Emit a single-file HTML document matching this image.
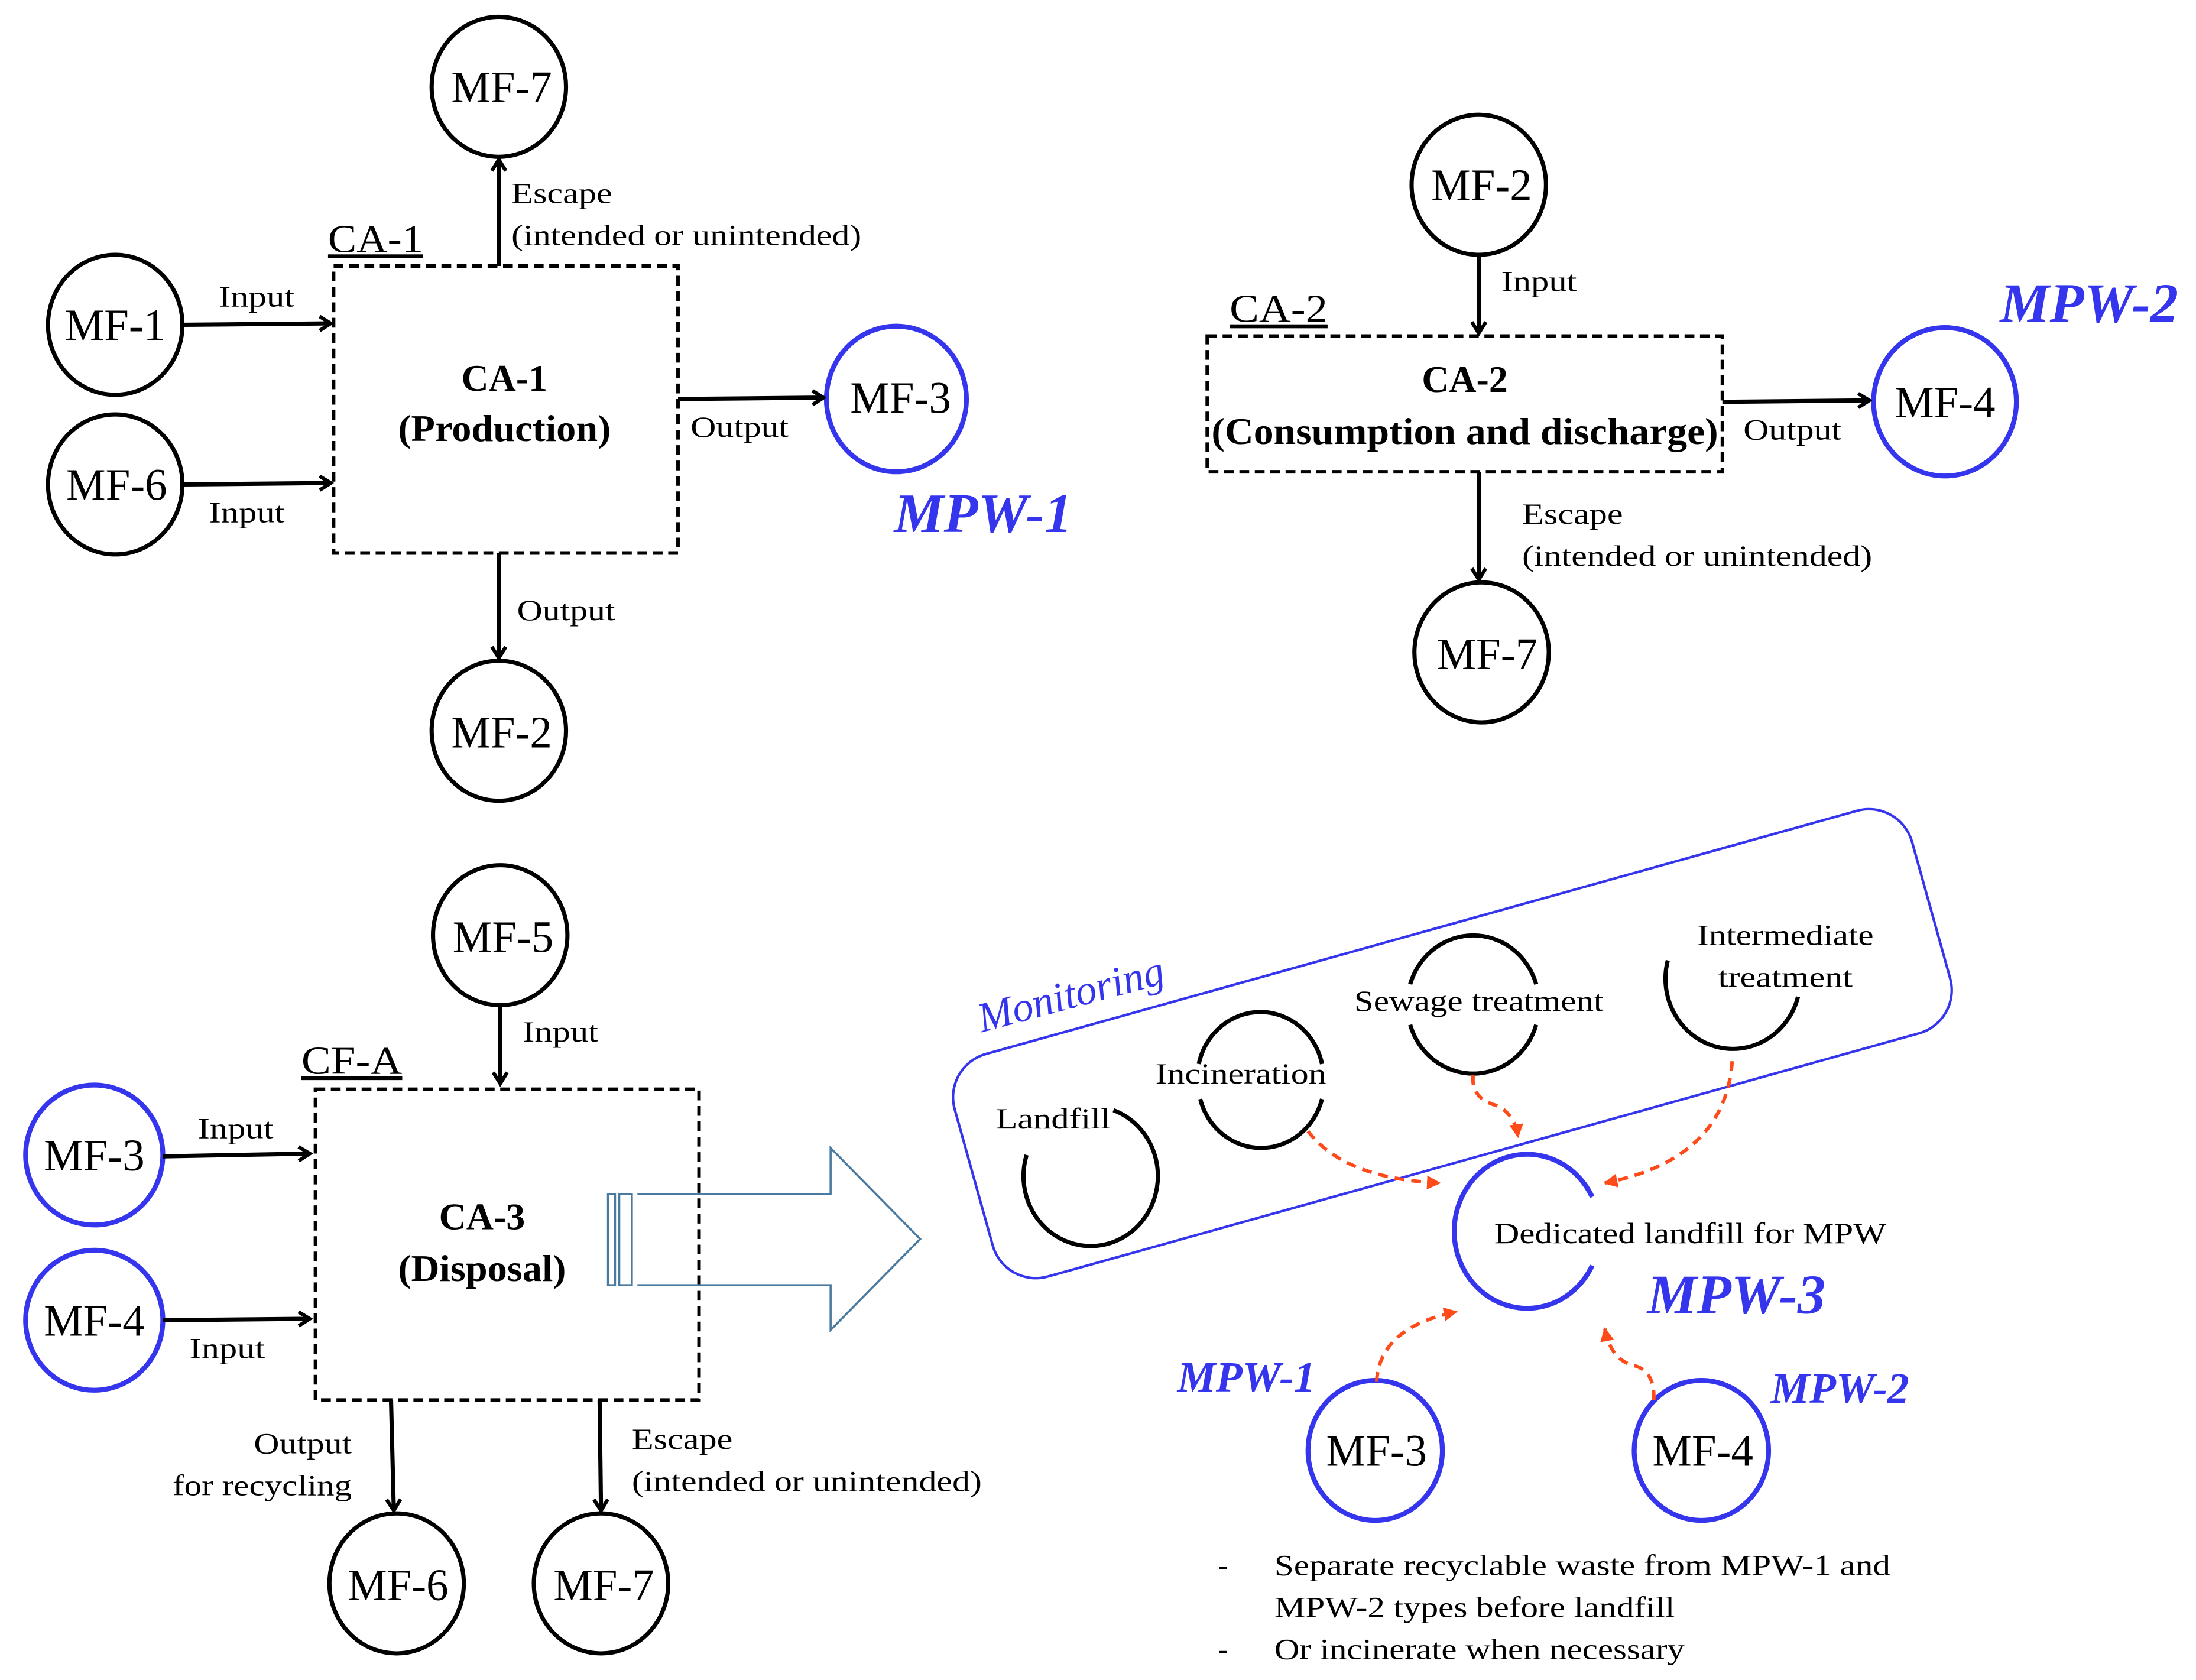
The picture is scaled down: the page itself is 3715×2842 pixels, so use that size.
<!DOCTYPE html>
<html><head><meta charset="utf-8"><style>
html,body{margin:0;padding:0;background:#fff;}
svg{display:block;}
text{font-family:"Liberation Serif",serif;}
</style></head><body>
<svg width="3715" height="2842" viewBox="0 0 1568 1200" xmlns="http://www.w3.org/2000/svg">
<defs>
<marker id="a" markerWidth="12" markerHeight="12" refX="10" refY="6" orient="auto" markerUnits="userSpaceOnUse">
<path d="M2,1 L10,6 L2,11" fill="none" stroke="#000" stroke-width="2.6"/>
</marker>
<marker id="r" markerWidth="12" markerHeight="12" refX="9" refY="6" orient="auto" markerUnits="userSpaceOnUse">
<path d="M0,1 L10,6 L0,11 Z" fill="#ff4a1a"/>
</marker>
</defs>
<rect width="1568" height="1200" fill="#fff"/>
<g fill="none" stroke="#000" stroke-width="3">
<ellipse cx="356" cy="62" rx="48" ry="50"/>
<ellipse cx="82" cy="232" rx="48" ry="50"/>
<ellipse cx="82" cy="346" rx="48" ry="50"/>
<ellipse cx="356" cy="522" rx="48" ry="50"/>
<ellipse cx="1056" cy="132" rx="48" ry="50"/>
<ellipse cx="1058" cy="466" rx="48" ry="50"/>
<ellipse cx="357" cy="668" rx="48" ry="50"/>
<ellipse cx="283" cy="1131" rx="48" ry="50"/>
<ellipse cx="429" cy="1131" rx="48" ry="50"/>
</g>
<g fill="none" stroke="#3535ee" stroke-width="3.5">
<ellipse cx="640" cy="285" rx="50" ry="52"/>
<ellipse cx="1389" cy="287" rx="51" ry="53"/>
<ellipse cx="67" cy="825" rx="49" ry="50"/>
<ellipse cx="67" cy="943" rx="49" ry="50"/>
<ellipse cx="982" cy="1036" rx="48" ry="50"/>
<ellipse cx="1215" cy="1036" rx="48" ry="50"/>
<path d="M1137,904 A52,55 0 1 1 1137,855"/>
</g>
<g fill="none" stroke="#000" stroke-width="2.5" stroke-dasharray="7,4">
<rect x="238" y="190" width="246" height="205"/>
<rect x="862" y="240" width="368" height="97"/>
<rect x="225" y="778" width="274" height="222"/>
</g>
<g stroke="#000" stroke-width="3" marker-end="url(#a)">
<line x1="131" y1="232" x2="236" y2="231"/>
<line x1="131" y1="346" x2="236" y2="345"/>
<line x1="484" y1="285" x2="588" y2="284"/>
<line x1="356" y1="190" x2="356" y2="114"/>
<line x1="356" y1="395" x2="356" y2="470"/>
<line x1="1056" y1="182" x2="1056" y2="238"/>
<line x1="1230" y1="287" x2="1335" y2="286"/>
<line x1="1056" y1="337" x2="1056" y2="414"/>
<line x1="357" y1="718" x2="357" y2="774"/>
<line x1="116" y1="826" x2="221" y2="824"/>
<line x1="116" y1="943" x2="221" y2="942"/>
<line x1="279" y1="1000" x2="281" y2="1079"/>
<line x1="428" y1="1000" x2="429" y2="1079"/>
</g>
<g fill="none" stroke="#4a7aa0" stroke-width="1.5">
<rect x="434" y="853" width="5" height="65"/>
<rect x="442" y="853" width="9" height="65"/>
<path d="M455,853 L593,853 L593,820 L657,885 L593,950 L593,918 L455,918"/>
</g>
<rect x="682" y="663" width="710" height="165" rx="32" fill="none" stroke="#3535ee" stroke-width="1.8" transform="rotate(-15.6 1037 745)"/>
<text x="765" y="720" font-size="30" font-style="italic" fill="#3535ee" text-anchor="middle" transform="rotate(-15 765 712)">Monitoring</text>
<g fill="none" stroke="#000" stroke-width="3">
<path d="M795,793 A48,50 0 1 1 733,825"/>
<path d="M944,760 A45,47 0 0 0 856,760"/>
<path d="M857,785 A45,47 0 0 0 944,785"/>
<path d="M1097,703 A47,49 0 0 0 1007,703"/>
<path d="M1007,732 A47,49 0 0 0 1097,732"/>
<path d="M1191,686 A48,50 0 1 0 1284,712"/>
</g>
<g fill="none" stroke="#ff4a1a" stroke-width="2.5" stroke-dasharray="7,5" marker-end="url(#r)">
<path d="M934,808 Q960,842 1028,845"/>
<path d="M1052,768 Q1050,785 1070,790 Q1082,797 1084,812"/>
<path d="M1237,758 Q1232,828 1146,845"/>
<path d="M983,987 Q985,948 1040,937"/>
<path d="M1181,1000 Q1182,978 1165,975 Q1150,970 1146,949"/>
</g>
<g font-size="32" text-anchor="middle" fill="#000">
<text x="358" y="73" textLength="72" lengthAdjust="spacingAndGlyphs">MF-7</text>
<text x="82" y="243" textLength="72" lengthAdjust="spacingAndGlyphs">MF-1</text>
<text x="83" y="357" textLength="72" lengthAdjust="spacingAndGlyphs">MF-6</text>
<text x="643" y="295" textLength="72" lengthAdjust="spacingAndGlyphs">MF-3</text>
<text x="358" y="534" textLength="72" lengthAdjust="spacingAndGlyphs">MF-2</text>
<text x="1058" y="143" textLength="72" lengthAdjust="spacingAndGlyphs">MF-2</text>
<text x="1389" y="298" textLength="72" lengthAdjust="spacingAndGlyphs">MF-4</text>
<text x="1062" y="478" textLength="72" lengthAdjust="spacingAndGlyphs">MF-7</text>
<text x="359" y="680" textLength="72" lengthAdjust="spacingAndGlyphs">MF-5</text>
<text x="67" y="836" textLength="72" lengthAdjust="spacingAndGlyphs">MF-3</text>
<text x="67" y="954" textLength="72" lengthAdjust="spacingAndGlyphs">MF-4</text>
<text x="284" y="1143" textLength="72" lengthAdjust="spacingAndGlyphs">MF-6</text>
<text x="431" y="1143" textLength="72" lengthAdjust="spacingAndGlyphs">MF-7</text>
<text x="983" y="1047" textLength="72" lengthAdjust="spacingAndGlyphs">MF-3</text>
<text x="1216" y="1047" textLength="72" lengthAdjust="spacingAndGlyphs">MF-4</text>
</g>
<g font-size="27" font-weight="bold" text-anchor="middle">
<text x="360" y="279">CA-1</text>
<text x="360" y="315" textLength="152" lengthAdjust="spacingAndGlyphs">(Production)</text>
<text x="1046" y="280">CA-2</text>
<text x="1046" y="317" textLength="362" lengthAdjust="spacingAndGlyphs">(Consumption and discharge)</text>
<text x="344" y="878">CA-3</text>
<text x="344" y="915" textLength="120" lengthAdjust="spacingAndGlyphs">(Disposal)</text>
</g>
<g font-size="28" text-decoration="underline">
<text x="234" y="180" textLength="68" lengthAdjust="spacingAndGlyphs">CA-1</text>
<text x="878" y="230" textLength="70" lengthAdjust="spacingAndGlyphs">CA-2</text>
<text x="215" y="767" textLength="72" lengthAdjust="spacingAndGlyphs">CF-A</text>
</g>
<g font-size="21" fill="#000">
<text x="156" y="219" textLength="54" lengthAdjust="spacingAndGlyphs">Input</text>
<text x="149" y="373" textLength="54" lengthAdjust="spacingAndGlyphs">Input</text>
<text x="493" y="312" textLength="70" lengthAdjust="spacingAndGlyphs">Output</text>
<text x="365" y="145" textLength="72" lengthAdjust="spacingAndGlyphs">Escape</text>
<text x="365" y="175" textLength="250" lengthAdjust="spacingAndGlyphs">(intended or unintended)</text>
<text x="369" y="443" textLength="70" lengthAdjust="spacingAndGlyphs">Output</text>
<text x="1072" y="208" textLength="54" lengthAdjust="spacingAndGlyphs">Input</text>
<text x="1245" y="314" textLength="70" lengthAdjust="spacingAndGlyphs">Output</text>
<text x="1087" y="374" textLength="72" lengthAdjust="spacingAndGlyphs">Escape</text>
<text x="1087" y="404" textLength="250" lengthAdjust="spacingAndGlyphs">(intended or unintended)</text>
<text x="373" y="744" textLength="54" lengthAdjust="spacingAndGlyphs">Input</text>
<text x="141" y="813" textLength="54" lengthAdjust="spacingAndGlyphs">Input</text>
<text x="135" y="970" textLength="54" lengthAdjust="spacingAndGlyphs">Input</text>
<text x="181" y="1038" textLength="70" lengthAdjust="spacingAndGlyphs">Output</text>
<text x="123" y="1068" textLength="128" lengthAdjust="spacingAndGlyphs">for recycling</text>
<text x="451" y="1035" textLength="72" lengthAdjust="spacingAndGlyphs">Escape</text>
<text x="451" y="1065" textLength="250" lengthAdjust="spacingAndGlyphs">(intended or unintended)</text>
<text x="752" y="806" text-anchor="middle" textLength="82" lengthAdjust="spacingAndGlyphs">Landfill</text>
<text x="886" y="774" text-anchor="middle" textLength="122" lengthAdjust="spacingAndGlyphs">Incineration</text>
<text x="1056" y="722" text-anchor="middle" textLength="178" lengthAdjust="spacingAndGlyphs">Sewage treatment</text>
<text x="1275" y="675" text-anchor="middle" textLength="126" lengthAdjust="spacingAndGlyphs">Intermediate</text>
<text x="1275" y="705" text-anchor="middle" textLength="96" lengthAdjust="spacingAndGlyphs">treatment</text>
<text x="1067" y="888" textLength="280" lengthAdjust="spacingAndGlyphs">Dedicated landfill for MPW</text>
<text x="870" y="1125">-</text>
<text x="910" y="1125" textLength="440" lengthAdjust="spacingAndGlyphs">Separate recyclable waste from MPW-1 and</text>
<text x="910" y="1155" textLength="286" lengthAdjust="spacingAndGlyphs">MPW-2 types before landfill</text>
<text x="870" y="1185">-</text>
<text x="910" y="1185" textLength="293" lengthAdjust="spacingAndGlyphs">Or incinerate when necessary</text>
</g>
<g fill="#3535ee" font-weight="bold" font-style="italic">
<text x="702" y="380" font-size="40" text-anchor="middle">MPW-1</text>
<text x="1492" y="230" font-size="40" text-anchor="middle">MPW-2</text>
<text x="1240" y="938" font-size="40" text-anchor="middle">MPW-3</text>
<text x="890" y="994" font-size="31" text-anchor="middle">MPW-1</text>
<text x="1314" y="1002" font-size="31" text-anchor="middle">MPW-2</text>
</g>
</svg>
</body></html>
